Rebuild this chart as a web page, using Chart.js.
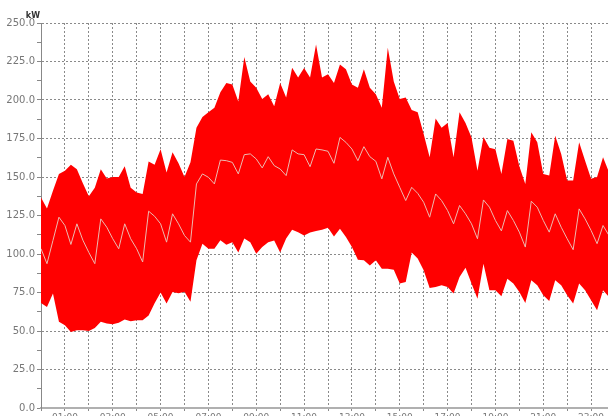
<!DOCTYPE html>
<html>
<head>
<meta charset="utf-8">
<script src="https://cdn.jsdelivr.net/npm/chart.js"></script>
<style>
    html, body { margin: 0; padding: 0; background: #fff; overflow: hidden; }
    #wrap { position: absolute; left: 0; top: 0; width: 615px; height: 430px; }
</style>
</head>
<body>
<div id="wrap"><canvas id="loadChart" width="615" height="430"></canvas></div>
<script>
// 15 minute readings over one day (hours)
const hours = [];
for (let i = 0; i < 96; i++) hours.push(i / 4);

const maxKw = [
    136.7, 129.5, 141, 152, 154, 158, 155, 146, 137.5, 143, 155, 149,
    150, 150, 157, 143, 140, 139, 160, 158, 168, 153, 166, 159,
    150, 159.5, 182, 189, 192, 195, 205, 211, 210, 199, 228, 212,
    208, 200.6, 203.8, 196, 211, 201.6, 221, 214.6, 220.7, 214.6, 236, 214.6,
    216.8, 211, 223, 220, 210, 208, 220, 208, 203.8, 195, 234, 212,
    200.6, 201.6, 193.5, 192, 178, 162.8, 188, 182, 185, 162.8, 192, 185,
    175.7, 154, 176, 169, 168, 152, 174.7, 173.6, 157, 145.5, 179, 172.5,
    152, 151, 176.8, 165, 147.7, 147.7, 172.5, 160.6, 148.8, 150, 162.8, 153
];

const minKw = [
    68.2, 65.6, 74.3, 56, 53.8, 49.4, 50.5, 50.5, 50, 52, 56, 54.8,
    54.4, 55.3, 57.4, 56.4, 57, 57, 60, 68, 75, 67.8, 75.3, 74.5,
    75.5, 69, 96, 106.7, 103.4, 103.4, 109, 106, 107.7, 101, 110, 107.7,
    100.2, 104.5, 107.7, 108.8, 101, 110, 115.7, 114.2, 112, 114, 115, 115.7,
    117, 111.4, 116.4, 111, 104.5, 96.3, 95.9, 92.6, 95.9, 90.5, 90.5, 89.8,
    80.8, 81.8, 101, 97, 89.4, 78, 78.6, 79.7, 78.6, 74.3, 85, 91.1,
    80.8, 71, 93.7, 76.4, 76.4, 72.5, 84, 80.8, 75.3, 68.2, 82.9, 79.7,
    73.2, 69.5, 82.9, 79.7, 73.2, 67.8, 80.8, 76.4, 70, 63.5, 76.4, 72
];

const avgKw = [
    103.4, 93.7, 108.8, 123.9, 118.5, 106.2, 119.6, 109, 101, 93.7, 122.8, 117.4,
    109.9, 103.4, 119.6, 109.9, 103.4, 94.8, 127.8, 124.5, 119.6, 107.7, 126.1, 119.6,
    112, 107.7, 145.5, 152, 149.8, 145.5, 161, 160.6, 159.5, 152, 164.5, 165,
    161.7, 155.9, 163.2, 157.4, 155.2, 150.9, 167.6, 165, 164.5, 156.7, 168.2, 167.6,
    166.7, 158.9, 175.7, 172.5, 168.2, 160.6, 169.7, 163.2, 160.2, 148.8, 162.8, 152,
    143.3, 134.7, 143.3, 139.4, 133.6, 123.9, 139, 134.7, 128.2, 119.6, 131.5, 126.1,
    119.6, 109.9, 135.1, 130.4, 121.8, 115, 128.2, 121.8, 114.2, 104.5, 134.3, 130.4,
    121.8, 114.2, 126.1, 117.4, 109.9, 102.8, 129.3, 122.8, 115.3, 106.7, 118.5, 112
];

const yTicks = [0, 25, 50, 75, 100, 125, 150, 175, 200, 225, 250];
const hourLabels = ['01:00', '03:00', '05:00', '07:00', '09:00', '11:00',
                    '13:00', '15:00', '17:00', '19:00', '21:00', '23:00'];
const unitLabel = 'kW';

function points(values) {
    return values.map((v, i) => ({ x: hours[i], y: v }));
}

// draws the unit above the value axis
const unitPlugin = {
    id: 'unitLabel',
    afterDraw(chart) {
        const ctx = chart.ctx;
        const area = chart.chartArea;
        ctx.save();
        ctx.font = 'bold 8px "DejaVu Sans"';
        ctx.fillStyle = '#333';
        ctx.textAlign = 'right';
        ctx.textBaseline = 'alphabetic';
        ctx.fillText(unitLabel, area.left - 1, area.top - 5);
        ctx.restore();
    }
};

new Chart(document.getElementById('loadChart'), {
    type: 'line',
    data: {
        datasets: [
            {
                label: 'max',
                data: points(maxKw),
                order: 2,
                borderWidth: 0,
                borderColor: 'rgba(0,0,0,0)',
                backgroundColor: '#ff0000',
                fill: '+1',
                pointRadius: 0,
                tension: 0
            },
            {
                label: 'min',
                data: points(minKw),
                order: 1,
                borderWidth: 0,
                borderColor: 'rgba(0,0,0,0)',
                fill: false,
                pointRadius: 0,
                tension: 0
            },
            {
                label: 'avg',
                data: points(avgKw),
                order: 0,
                borderWidth: 1,
                borderColor: 'rgb(236,186,176)',
                fill: false,
                pointRadius: 0,
                tension: 0
            }
        ]
    },
    options: {
        responsive: false,
        animation: false,
        events: [],
        layout: { padding: { top: 23, left: 0, right: 0, bottom: 0 } },
        plugins: {
            legend: { display: false },
            tooltip: { enabled: false }
        },
        scales: {
            x: {
                type: 'linear',
                min: 0,
                max: 24,
                afterFit(scale) { scale.height = 22; },
                afterBuildTicks(scale) {
                    const t = [];
                    for (let h = 0; h <= 24; h++) t.push({ value: h });
                    scale.ticks = t;
                },
                ticks: {
                    autoSkip: false,
                    maxRotation: 0,
                    padding: 0,
                    color: '#777',
                    font: { family: 'DejaVu Sans', size: 9 },
                    callback: v => (v % 2 === 1 ? hourLabels[(v - 1) / 2] : '')
                },
                grid: {
                    color: '#8a8a8a',
                    tickColor: '#8a8a8a',
                    tickLength: 4,
                    tickBorderDash: [2, 2]
                },
                border: { color: '#b0b0b0', width: 2, dash: [2, 2] }
            },
            y: {
                min: 0,
                max: 250,
                afterFit(scale) { scale.width = 41; },
                afterBuildTicks(scale) {
                    const t = [];
                    for (let v = 0; v <= 250; v += 12.5) t.push({ value: v });
                    scale.ticks = t;
                },
                ticks: {
                    autoSkip: false,
                    padding: 2,
                    color: '#777',
                    font: { family: 'DejaVu Sans', size: 10 },
                    callback: v => (yTicks.includes(v) ? v.toFixed(1) : '')
                },
                grid: {
                    color: ctx => (ctx.tick && yTicks.includes(ctx.tick.value) ? '#8a8a8a' : 'rgba(0,0,0,0)'),
                    tickColor: '#888',
                    tickLength: 4
                },
                border: { color: '#888', width: 1, dash: [2, 2] }
            }
        }
    },
    plugins: [unitPlugin]
});
</script>
</body>
</html>
